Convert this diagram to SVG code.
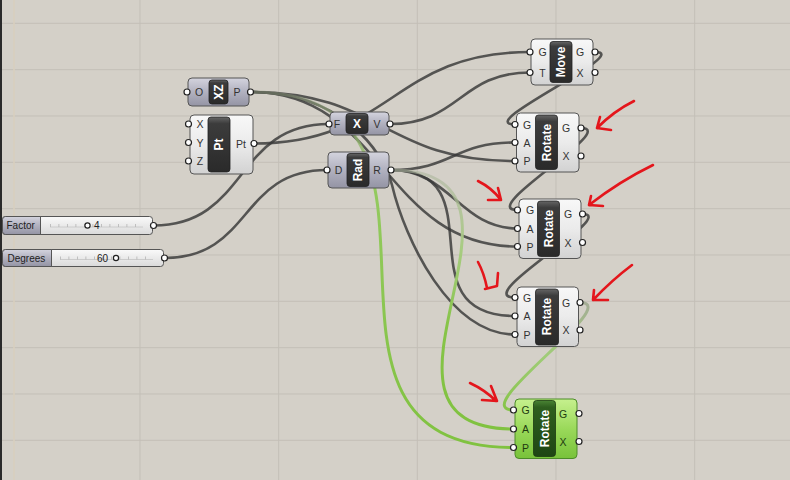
<svg xmlns="http://www.w3.org/2000/svg" width="790" height="480" viewBox="0 0 790 480">
<defs>
<linearGradient id="gBody" x1="0" y1="0" x2="0" y2="1"><stop offset="0" stop-color="#F8F8F8"/><stop offset="0.5" stop-color="#EBEBEB"/><stop offset="1" stop-color="#D2D2D2"/></linearGradient>
<linearGradient id="gParam" x1="0" y1="0" x2="0" y2="1"><stop offset="0" stop-color="#D4D4DE"/><stop offset="0.45" stop-color="#B4B4C2"/><stop offset="1" stop-color="#9494A4"/></linearGradient>
<linearGradient id="gPanel" x1="0" y1="0" x2="0" y2="1"><stop offset="0" stop-color="#666"/><stop offset="0.12" stop-color="#3C3C3C"/><stop offset="1" stop-color="#2A2A2A"/></linearGradient>
<linearGradient id="gGreen" x1="0" y1="0" x2="0" y2="1"><stop offset="0" stop-color="#C6F08E"/><stop offset="0.5" stop-color="#9AD95A"/><stop offset="1" stop-color="#78C23A"/></linearGradient>
<linearGradient id="gGreenPanel" x1="0" y1="0" x2="0" y2="1"><stop offset="0" stop-color="#4A8434"/><stop offset="0.12" stop-color="#2E5E1E"/><stop offset="1" stop-color="#1E4614"/></linearGradient>
<linearGradient id="gTrack" x1="0" y1="0" x2="0" y2="1"><stop offset="0" stop-color="#FAFAFA"/><stop offset="1" stop-color="#DADADA"/></linearGradient>
<linearGradient id="gw8" gradientUnits="userSpaceOnUse" x1="0" y1="92" x2="0" y2="447.5"><stop offset="0" stop-color="#8E9A7E" stop-opacity="0.5"/><stop offset="0.25" stop-color="#94CA60"/><stop offset="1" stop-color="#80C240"/></linearGradient>
<linearGradient id="gw12" gradientUnits="userSpaceOnUse" x1="0" y1="170" x2="0" y2="429"><stop offset="0" stop-color="#AEB6A0" stop-opacity="0.6"/><stop offset="0.3" stop-color="#A8CC82"/><stop offset="0.6" stop-color="#86C448"/><stop offset="1" stop-color="#80C240"/></linearGradient>
<linearGradient id="gw16" gradientUnits="userSpaceOnUse" x1="0" y1="302" x2="0" y2="410"><stop offset="0" stop-color="#A4AC96"/><stop offset="0.5" stop-color="#A0CC78"/><stop offset="1" stop-color="#86C448"/></linearGradient>
</defs>
<style>
.grid{stroke:#C3BFB7;stroke-width:1}
.w{fill:none;stroke:#383838;stroke-opacity:0.82;stroke-width:2.6}
.wg{fill:none;stroke-width:3}
.body{fill:url(#gBody);stroke:#555;stroke-width:1}
.param{fill:url(#gParam);stroke:#555;stroke-width:1}
.green{fill:url(#gGreen);stroke:#4C8C28;stroke-width:1}
.panel{fill:url(#gPanel);stroke:#222;stroke-width:0.8}
.gpanel{fill:url(#gGreenPanel);stroke:#1A3A10;stroke-width:0.8}
.nm{font-family:"Liberation Sans",Arial,sans-serif;font-weight:bold;font-size:12px;fill:#fff;text-anchor:middle;dominant-baseline:central}
.lb{font-family:"Liberation Sans",Arial,sans-serif;font-size:10.5px;fill:#333;text-anchor:middle;dominant-baseline:central}
.lbg{font-family:"Liberation Sans",Arial,sans-serif;font-size:10.5px;fill:#1E3A10;text-anchor:middle;dominant-baseline:central}
.sl{font-family:"Liberation Sans",Arial,sans-serif;font-size:10px;fill:#222;dominant-baseline:central}
.pt{fill:#fff;stroke:#222;stroke-width:1.2}
.red{fill:none;stroke:#E4161C;stroke-width:2.6;stroke-linecap:round;stroke-linejoin:round}
</style>
<rect x="0" y="0" width="790" height="480" fill="#D4D0C8"/>
<g id="grid">
<line class="grid" x1="140" y1="0" x2="140" y2="480"/>
<line class="grid" x1="278.7" y1="0" x2="278.7" y2="480"/>
<line class="grid" x1="417.3" y1="0" x2="417.3" y2="480"/>
<line class="grid" x1="556" y1="0" x2="556" y2="480"/>
<line class="grid" x1="694.7" y1="0" x2="694.7" y2="480"/>
<line class="grid" x1="0" y1="23.3" x2="790" y2="23.3"/>
<line class="grid" x1="0" y1="69.7" x2="790" y2="69.7"/>
<line class="grid" x1="0" y1="116" x2="790" y2="116"/>
<line class="grid" x1="0" y1="162.3" x2="790" y2="162.3"/>
<line class="grid" x1="0" y1="208.7" x2="790" y2="208.7"/>
<line class="grid" x1="0" y1="255" x2="790" y2="255"/>
<line class="grid" x1="0" y1="301.3" x2="790" y2="301.3"/>
<line class="grid" x1="0" y1="347.7" x2="790" y2="347.7"/>
<line class="grid" x1="0" y1="394" x2="790" y2="394"/>
<line class="grid" x1="0" y1="440.3" x2="790" y2="440.3"/>
<line x1="14" y1="0" x2="14" y2="480" stroke="#D9CFBE" stroke-width="1.5"/>
<rect x="0" y="0" width="2" height="480" fill="#2A2A2A"/>
</g>
<g id="connectors">
<path class="w" d="M153.5,225.5 C248.5,225.5 234,124 329,124"/>
<path class="w" d="M164.5,258 C252.5,258 239,170 327,170"/>
<path class="w" d="M254,143.5 C392,143.5 392,52 530,52"/>
<path class="w" d="M390,124 C460,124 460,72.5 530,72.5"/>
<path class="w" d="M250.5,92 C383,92 383,161 515,161"/>
<path class="w" d="M250.5,92 C384,92 384,246.5 517.5,246.5"/>
<path class="w" d="M250.5,92 C340,92 383,150 392,185 C405,240 450,334.5 515,334.5"/>
<path class="w" d="M391,170 C453,170 453,142.5 515,142.5"/>
<path class="w" d="M391,170 C450,170 460,228.5 517.5,228.5"/>
<path class="w" d="M391,170 C500,170 400,316 515,316"/>
<path class="w" d="M595,52 C635,52 472,124.5 515,124.5"/>
<path class="w" d="M581,128 C620,128 476,210 517.5,210"/>
<path class="w" d="M582.5,214 C620,214 470,297.5 515,297.5"/>
<path class="wg" stroke="url(#gw8)" d="M250.5,92 C500,92 263.5,447.5 513.5,447.5"/>
<path class="wg" stroke="url(#gw12)" d="M391,170 C569,170 335.5,429 513.5,429"/>
<path class="wg" stroke="url(#gw16)" d="M580,302.5 C625,302.5 465,410 513.5,410"/>
</g>
<g id="xz">
<rect class="param" x="188" y="78" width="61" height="28" rx="4"/>
<rect class="panel" x="209" y="80" width="19" height="24" rx="3"/>
<text class="nm" transform="translate(218.5,92) rotate(-90)">XZ</text>
<text class="lb" x="199" y="92">O</text><text class="lb" x="237" y="92">P</text>
<circle class="pt" cx="187" cy="92" r="3"/><circle class="pt" cx="250.5" cy="92" r="3"/>
</g>
<g id="pt">
<rect class="body" x="190" y="115" width="63" height="59" rx="4"/>
<rect class="panel" x="208" y="117" width="22" height="55" rx="3"/>
<text class="nm" transform="translate(219,144.5) rotate(-90)">Pt</text>
<text class="lb" x="200" y="124">X</text><text class="lb" x="200" y="142.5">Y</text><text class="lb" x="200" y="161">Z</text>
<text class="lb" x="241" y="143.5">Pt</text>
<circle class="pt" cx="188.5" cy="124" r="3"/><circle class="pt" cx="188.5" cy="142.5" r="3"/><circle class="pt" cx="188.5" cy="161" r="3"/>
<circle class="pt" cx="254" cy="143.5" r="3"/>
</g>
<g id="unitx">
<rect class="param" x="330" y="112" width="59" height="23" rx="4"/>
<rect class="panel" x="346" y="113.5" width="22" height="20" rx="3"/>
<text class="nm" x="357" y="124">X</text>
<text class="lb" x="337" y="124">F</text><text class="lb" x="377" y="124">V</text>
<circle class="pt" cx="329" cy="124" r="3"/><circle class="pt" cx="390" cy="124" r="3"/>
</g>
<g id="rad">
<rect class="param" x="328" y="152" width="61" height="36" rx="4"/>
<rect class="panel" x="347" y="153.5" width="22" height="33" rx="3"/>
<text class="nm" transform="translate(358,170) rotate(-90)">Rad</text>
<text class="lb" x="338.5" y="170">D</text><text class="lb" x="377" y="170">R</text>
<circle class="pt" cx="327" cy="170" r="3"/><circle class="pt" cx="391" cy="170" r="3"/>
</g>
<g id="move">
<rect class="body" x="531" y="39" width="62" height="46" rx="4"/>
<rect class="panel" x="550" y="41.5" width="22" height="41" rx="3"/>
<text class="nm" transform="translate(561,62) rotate(-90)">Move</text>
<text class="lb" x="542.5" y="52">G</text><text class="lb" x="542.5" y="72.5">T</text>
<text class="lb" x="580" y="52">G</text><text class="lb" x="580" y="72.5">X</text>
<circle class="pt" cx="530" cy="52" r="3"/><circle class="pt" cx="530" cy="72.5" r="3"/>
<circle class="pt" cx="595" cy="52" r="3"/><circle class="pt" cx="595" cy="72.5" r="3"/>
</g>
<g id="rotate1">
<rect class="body" x="516.5" y="113" width="62.5" height="59" rx="4"/>
<rect class="panel" x="535.5" y="115" width="22" height="54.5" rx="3"/>
<text class="nm" transform="translate(546.5,142.5) rotate(-90)">Rotate</text>
<text class="lb" x="527" y="124.5">G</text><text class="lb" x="527" y="142.5">A</text><text class="lb" x="527" y="161">P</text>
<text class="lb" x="566" y="128">G</text><text class="lb" x="566" y="156">X</text>
<circle class="pt" cx="515" cy="124.5" r="3"/><circle class="pt" cx="515" cy="142.5" r="3"/><circle class="pt" cx="515" cy="161" r="3"/>
<circle class="pt" cx="581" cy="128" r="3"/><circle class="pt" cx="581" cy="156" r="3"/>
</g>
<g id="rotate2">
<rect class="body" x="519" y="199" width="62" height="59.5" rx="4"/>
<rect class="panel" x="537.5" y="201" width="22" height="55.5" rx="3"/>
<text class="nm" transform="translate(548.5,228.5) rotate(-90)">Rotate</text>
<text class="lb" x="530" y="210">G</text><text class="lb" x="530" y="228.5">A</text><text class="lb" x="530" y="246.5">P</text>
<text class="lb" x="568" y="214">G</text><text class="lb" x="568" y="242.5">X</text>
<circle class="pt" cx="517.5" cy="210" r="3"/><circle class="pt" cx="517.5" cy="228.5" r="3"/><circle class="pt" cx="517.5" cy="246.5" r="3"/>
<circle class="pt" cx="582.5" cy="214" r="3"/><circle class="pt" cx="582.5" cy="242.5" r="3"/>
</g>
<g id="rotate3">
<rect class="body" x="517" y="287" width="61.5" height="59.5" rx="4"/>
<rect class="panel" x="535.5" y="289" width="23" height="56" rx="3"/>
<text class="nm" transform="translate(547,316.5) rotate(-90)">Rotate</text>
<text class="lb" x="527" y="297.5">G</text><text class="lb" x="527" y="316">A</text><text class="lb" x="527" y="334.5">P</text>
<text class="lb" x="566" y="302.5">G</text><text class="lb" x="566" y="330">X</text>
<circle class="pt" cx="515" cy="297.5" r="3"/><circle class="pt" cx="515" cy="316" r="3"/><circle class="pt" cx="515" cy="334.5" r="3"/>
<circle class="pt" cx="580" cy="302.5" r="3"/><circle class="pt" cx="580" cy="330" r="3"/>
</g>
<g id="rotate4">
<rect class="green" x="515" y="399" width="62" height="59.5" rx="4"/>
<rect class="gpanel" x="533.5" y="400.5" width="22" height="56" rx="3"/>
<text class="nm" transform="translate(544.5,428.5) rotate(-90)">Rotate</text>
<text class="lbg" x="525.5" y="410">G</text><text class="lbg" x="525.5" y="429">A</text><text class="lbg" x="525.5" y="447.5">P</text>
<text class="lbg" x="563" y="413.5">G</text><text class="lbg" x="563" y="441.5">X</text>
<circle class="pt" cx="513.5" cy="410" r="3"/><circle class="pt" cx="513.5" cy="429" r="3"/><circle class="pt" cx="513.5" cy="447.5" r="3"/>
<circle class="pt" cx="579" cy="413.5" r="3"/><circle class="pt" cx="579" cy="441.5" r="3"/>
</g>
<g id="slider-factor">
<rect x="2.5" y="216.5" width="150" height="18" rx="3" fill="url(#gTrack)" stroke="#555"/>
<path d="M5.5,216.5 H40.5 V234.5 H5.5 A3,3 0 0 1 2.5,231.5 V219.5 A3,3 0 0 1 5.5,216.5 Z" fill="url(#gParam)" stroke="#555"/>
<text class="sl" x="6.5" y="225.5">Factor</text>
<line x1="50" y1="227" x2="143" y2="227" stroke="#C4C4C4" stroke-width="0.8"/>
<line x1="50" y1="225.5" x2="143.5" y2="225.5" stroke="#B4B4B4" stroke-width="3" stroke-dasharray="0.8 7.7"/>
<circle cx="87.5" cy="225.5" r="2.6" fill="#fff" stroke="#222" stroke-width="1.2"/>
<text class="sl" x="94" y="225.5">4</text>
<circle class="pt" cx="153.5" cy="225.5" r="3"/>
</g>
<g id="slider-degrees">
<rect x="2.5" y="249.5" width="161" height="17" rx="3" fill="url(#gTrack)" stroke="#555"/>
<path d="M5.5,249.5 H51.5 V266.5 H5.5 A3,3 0 0 1 2.5,263.5 V252.5 A3,3 0 0 1 5.5,249.5 Z" fill="url(#gParam)" stroke="#555"/>
<text class="sl" x="7.5" y="258">Degrees</text>
<line x1="60" y1="259.5" x2="153" y2="259.5" stroke="#C4C4C4" stroke-width="0.8"/>
<line x1="60" y1="258" x2="153.5" y2="258" stroke="#B4B4B4" stroke-width="3" stroke-dasharray="0.8 7.7"/>
<text class="sl" x="97" y="258">60</text>
<circle cx="116" cy="258" r="2.6" fill="#fff" stroke="#222" stroke-width="1.2"/>
<circle class="pt" cx="164.5" cy="258" r="3"/>
</g>
<g id="annotations">
<path class="red" d="M634,101 Q614,111 597,128 M600,117 L597,128 L611,130"/>
<path class="red" d="M653,165 Q620,181 589,205 M591,196 L589,205 L603,206"/>
<path class="red" d="M632,265 Q612,280 593,300 M594,290 L593,300 L608,300"/>
<path class="red" d="M478,181 Q492,188 501,200 M488,200 L501,200 L498,188"/>
<path class="red" d="M478,262 Q484,273 487,288 M485,289 L497,286 L498,273"/>
<path class="red" d="M470,383 Q485,390 496,401 M482,400 L497,401 L491,386"/>
</g>
</svg>
